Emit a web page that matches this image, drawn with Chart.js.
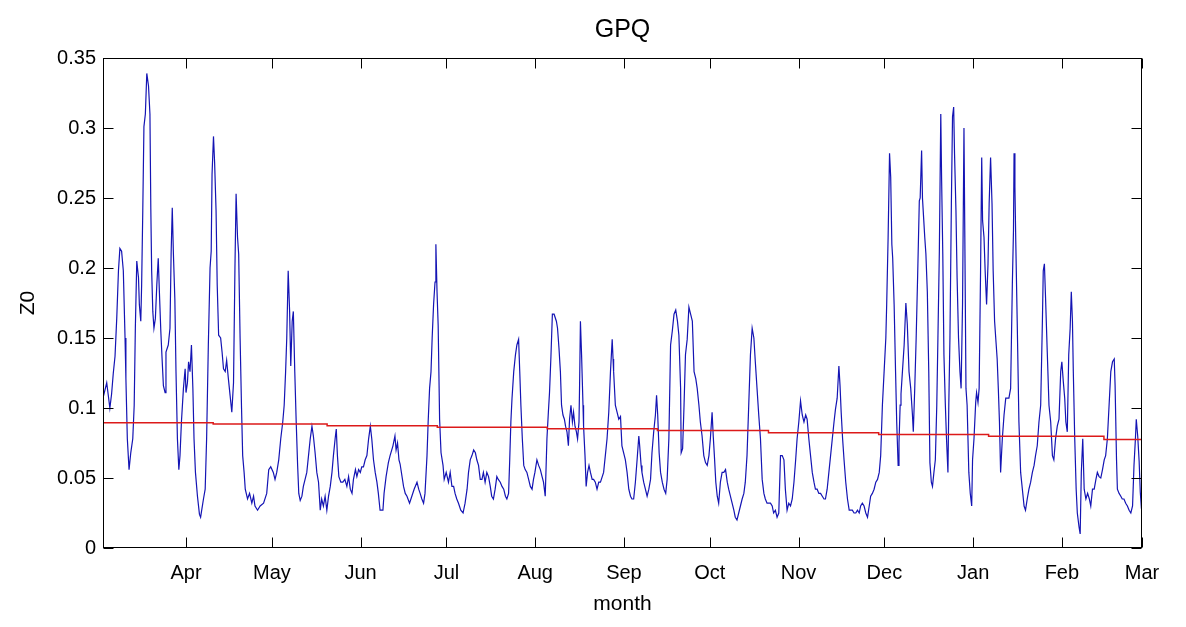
<!DOCTYPE html>
<html>
<head>
<meta charset="utf-8">
<script src="https://cdn.jsdelivr.net/npm/chart.js@4.4.1/dist/chart.umd.min.js"></script>
<style>
html,body{margin:0;padding:0;background:#fff;}
#wrap{width:1186px;height:627px;position:relative;}
</style>
</head>
<body>
<div id="wrap"><canvas id="c"></canvas></div>
<script>
// ---- data (day offset from start of record, Z0 value) ----
const dayOffsets = [
0.1,1.3,2.4,3.0,3.6,4.2,4.8,5.4,5.9,6.5,7.1,7.7,8.0,8.5,9.1,9.7,10.4,10.9,11.3,11.8,12.4,12.7,13.2,13.5,13.9,14.3,14.8,15.3,15.9,16.4,16.7,17.0,17.4,17.8,18.3,18.8,19.3,19.7,20.2,20.6,21.1,21.7,22.0,22.8,23.4,23.8,24.2,24.6,25.1,25.5,26.0,26.5,26.9,27.4,28.1,28.7,29.0,29.5,29.9,30.4,30.9,31.4,31.8,32.3,33.0,33.7,
34.1,35.1,35.7,36.2,36.8,37.4,37.8,38.1,38.6,39.0,39.5,39.9,40.4,41.1,41.6,42.1,42.7,43.2,43.8,44.4,45.0,45.6,46.1,46.5,47.0,47.4,47.9,48.4,48.8,49.3,49.7,50.5,51.2,52.0,52.6,53.1,54.0,54.9,56.1,57.2,57.9,58.6,59.5,60.1,60.7,61.4,62.1,62.8,63.3,63.8,64.2,64.7,65.2,65.6,66.1,66.5,67.0,67.5,68.0,68.4,
68.9,69.5,70.0,70.6,71.2,71.8,72.4,73.0,73.5,74.1,74.7,75.3,75.9,76.4,77.0,77.6,78.2,78.8,79.4,80.0,80.5,81.1,81.5,81.9,82.4,83.1,83.8,84.5,85.2,85.8,86.4,87.0,87.5,88.2,88.7,89.3,89.9,90.4,91.0,91.6,92.2,92.8,93.4,93.9,94.5,95.1,95.7,96.2,96.8,97.8,98.2,98.9,99.7,100.3,101.3,102.0,102.4,102.9,103.4,
103.8,105.0,105.6,106.2,107.1,107.9,108.7,109.7,110.3,110.8,111.4,112.0,112.5,113.2,113.6,114.1,114.6,115.0,115.5,116.0,116.3,116.7,117.1,117.6,118.1,118.8,119.2,119.9,120.7,121.3,121.9,122.5,123.0,123.6,124.2,125.0,125.8,126.5,127.2,127.7,128.3,128.9,129.5,130.1,130.6,131.2,131.8,132.4,132.9,133.5,134.1,134.7,135.3,135.8,136.4,137.0,137.6,138.1,
138.8,139.4,140.0,140.6,141.1,141.7,142.1,142.5,142.9,143.5,144.1,144.6,145.2,145.6,146.0,146.5,147.0,147.5,148.1,148.7,149.3,149.9,150.4,150.9,151.6,152.2,152.8,153.4,153.9,154.5,155.1,155.6,156.0,156.5,157.0,157.6,158.4,158.8,159.3,159.8,160.2,160.7,161.2,161.6,162.1,162.6,163.0,163.5,164.0,164.4,164.9,165.4,165.8,166.3,166.5,166.8,167.2,167.7,167.9,168.4,168.8,169.3,169.8,170.3,170.9,171.4,172.0,172.6,173.2,
173.8,174.9,175.5,176.1,176.7,177.3,177.9,178.2,178.4,179.0,179.6,180.2,180.8,181.3,181.9,182.5,183.1,183.7,184.3,184.8,185.4,186.0,186.6,187.2,187.5,188.0,188.3,188.9,189.5,190.1,190.7,191.3,191.8,192.4,193.0,193.4,193.8,194.3,194.8,195.4,196.0,196.6,197.1,197.7,198.3,198.9,199.5,200.1,200.7,201.2,201.8,202.0,202.5,203.0,203.5,204.1,204.7,205.3,205.9,206.5,207.1,207.6,208.2,
208.7,209.3,209.9,210.5,211.1,211.7,212.2,212.8,213.2,213.6,214.1,214.6,215.1,215.7,216.3,216.9,217.5,218.1,218.6,219.2,219.8,220.4,220.9,221.5,222.1,222.7,223.3,223.9,224.4,225.0,225.6,226.2,226.8,227.4,227.9,228.5,229.1,229.7,230.3,230.9,231.4,232.0,232.6,233.2,233.8,234.3,234.9,235.5,236.1,236.7,237.3,237.9,238.4,239.0,239.6,240.2,240.8,241.4,242.0,242.5,243.1,
243.7,244.3,244.9,245.5,246.0,246.6,247.2,247.8,248.4,248.9,249.5,250.1,250.7,251.3,251.9,252.4,253.0,253.6,254.2,254.8,255.4,255.9,256.5,257.1,257.5,257.9,258.4,258.9,259.5,260.1,260.7,261.2,261.8,262.4,263.0,263.6,264.2,264.7,265.3,265.9,266.5,267.1,267.7,268.2,268.8,269.4,270.0,270.6,271.2,271.7,272.3,272.9,273.5,273.8,274.3,274.8,275.2,275.6,275.9,276.4,276.9,277.3,277.8,278.1,278.5,
278.8,279.3,279.9,280.5,281.0,281.6,282.2,282.8,283.1,283.6,284.1,284.6,285.2,285.5,286.0,286.3,286.7,287.1,287.5,288.0,288.5,288.9,289.4,289.8,290.3,290.8,291.3,291.7,292.2,292.7,293.0,293.4,293.8,294.3,294.7,295.2,295.5,295.9,296.4,296.8,297.2,297.5,298.0,298.4,298.9,299.4,299.8,300.3,300.8,301.1,301.5,301.9,302.5,303.0,303.5,303.8,304.3,304.9,305.2,305.7,306.1,306.6,307.0,307.3,307.8,308.2,308.7,309.2,309.6,310.1,310.6,311.0,311.5,312.0,312.4,312.8,313.2,313.6,
314.2,314.8,315.4,316.5,317.1,317.7,318.1,318.3,318.6,318.9,319.4,320.0,320.6,321.2,321.8,322.3,322.9,323.5,324.1,324.7,325.3,325.8,326.4,327.0,327.6,328.2,328.5,328.9,329.3,329.9,330.5,331.1,331.7,332.2,332.8,333.4,334.0,334.6,335.0,335.5,336.0,336.4,336.9,337.4,337.9,338.3,338.7,339.0,339.5,340.0,340.4,341.0,341.4,341.8,342.3,342.8,343.4,344.0,344.6,345.1,345.7,346.3,346.9,347.4,348.0,348.6,
349.2,349.8,350.3,350.9,351.5,352.1,352.7,353.3,353.6,354.1,354.4,355.0,355.6,356.1,356.7,357.3,357.9,358.5,359.1,359.7,360.2,360.7,361.0,361.5,362.0,362.4,362.8,363.0
];
const z0Values = [
.108,.118,.100,.110,.125,.137,.164,.198,.214,.212,.198,.150,.121,.078,.056,.068,.078,.102,.157,.205,.193,.174,.162,.188,.241,.301,.310,.339,.330,.310,.243,.198,.169,.157,.164,.188,.207,.183,.155,.137,.116,.111,.140,.145,.157,.210,.243,.210,.178,.126,.078,.056,.066,.090,.114,.128,.111,.118,.133,.126,.145,.114,.078,.054,.037,.024,
.022,.035,.042,.078,.145,.200,.212,.267,.294,.275,.241,.188,.152,.150,.140,.128,.126,.134,.121,.109,.097,.118,.200,.253,.222,.210,.150,.100,.066,.054,.042,.035,.039,.032,.037,.030,.027,.030,.032,.039,.056,.058,.054,.049,.054,.063,.078,.090,.102,.126,.150,.198,.169,.130,.162,.169,.126,.090,.059,.039,
.034,.037,.044,.049,.054,.066,.078,.087,.080,.068,.054,.047,.027,.035,.030,.037,.027,.037,.044,.054,.066,.078,.085,.066,.051,.047,.047,.049,.044,.051,.042,.039,.049,.056,.051,.056,.054,.058,.058,.063,.066,.078,.087,.078,.063,.054,.047,.039,.027,.027,.039,.051,.061,.066,.073,.080,.070,.075,.063,
.060,.044,.039,.037,.032,.037,.042,.047,.042,.039,.035,.032,.039,.066,.090,.114,.126,.150,.174,.190,.217,.183,.159,.092,.068,.059,.049,.054,.047,.054,.044,.044,.039,.035,.032,.027,.025,.032,.042,.054,.063,.066,.070,.068,.063,.059,.049,.049,.054,.047,.054,.051,.044,.037,.035,.042,.051,.049,
.047,.044,.042,.037,.035,.039,.063,.090,.107,.126,.138,.145,.149,.126,.102,.078,.059,.056,.054,.049,.044,.042,.049,.054,.063,.059,.056,.051,.047,.037,.078,.097,.111,.137,.167,.167,.162,.157,.143,.126,.102,.095,.092,.087,.083,.073,.092,.102,.090,.097,.087,.083,.078,.090,.115,.162,.138,.102,.087,.066,.044,.054,.059,.054,.049,.049,.047,.042,.047,
.047,.054,.066,.078,.097,.126,.149,.135,.126,.102,.097,.092,.094,.073,.068,.063,.054,.042,.037,.035,.035,.047,.063,.080,.073,.059,.054,.047,.042,.037,.042,.049,.068,.083,.095,.109,.095,.068,.054,.047,.042,.039,.049,.078,.145,.155,.167,.170,.162,.152,.114,.068,.071,.102,.138,.149,.172,.167,.162,.126,.121,.114,.102,
.090,.080,.066,.061,.059,.066,.078,.097,.080,.066,.047,.037,.032,.047,.054,.054,.056,.047,.042,.037,.032,.027,.022,.020,.025,.030,.035,.039,.047,.066,.102,.138,.157,.150,.133,.114,.095,.078,.049,.039,.035,.032,.032,.032,.030,.025,.027,.022,.025,.066,.066,.063,.042,.027,.032,.030,.035,.047,.063,.078,.090,
.105,.095,.090,.095,.092,.078,.066,.054,.047,.042,.042,.039,.039,.037,.035,.035,.042,.054,.066,.078,.090,.099,.107,.130,.116,.097,.078,.063,.047,.035,.027,.027,.027,.025,.025,.027,.025,.030,.032,.030,.025,.022,.030,.037,.039,.042,.047,.049,.054,.066,.102,.126,.150,.174,.222,.282,.265,.217,.207,.174,.126,.090,.059,.075,.102,
.110,.126,.145,.175,.160,.126,.114,.095,.083,.114,.150,.193,.248,.250,.284,.250,.236,.222,.210,.183,.126,.061,.047,.044,.054,.063,.102,.150,.212,.310,.262,.210,.138,.102,.078,.054,.102,.150,.246,.308,.315,.282,.241,.193,.150,.126,.114,.174,.300,.222,.114,.102,.054,.039,.030,.063,.078,.104,.111,.104,.114,.198,.279,.234,.222,.198,.174,.203,.246,.279,.246,.198,.162,.147,.135,.114,.090,.054,
.078,.095,.107,.107,.114,.188,.227,.282,.258,.219,.162,.090,.054,.042,.030,.027,.035,.042,.047,.054,.059,.066,.073,.090,.102,.162,.198,.203,.179,.140,.102,.090,.066,.063,.078,.087,.092,.126,.133,.119,.107,.090,.083,.138,.157,.183,.162,.126,.078,.042,.025,.015,.010,.054,.078,.042,.035,.039,.035,.030,.042,.042,.049,.054,.051,.050,
.056,.063,.066,.078,.102,.126,.133,.135,.116,.063,.042,.039,.037,.035,.035,.032,.030,.027,.025,.030,.059,.078,.092,.080,.062,.040,.028,.045
];
// mean (trend) line, piecewise constant
const trendDays = [0, 38.5, 78.3, 116.8, 155.2, 193.7, 232.5, 271, 309.4, 349.7, 363];
const trendValues = [0.0895, 0.0885, 0.0873, 0.0862, 0.0851, 0.0840, 0.0823, 0.0811, 0.0798, 0.0775, 0.0775];
// axes
const monthTickDays = [29, 59, 90, 120, 151, 182, 212, 243, 273, 304, 335, 363];
const monthLabels = ['Apr','May','Jun','Jul','Aug','Sep','Oct','Nov','Dec','Jan','Feb','Mar'];
const yTickValues = [0, 0.05, 0.1, 0.15, 0.2, 0.25, 0.3, 0.35];
const yTickLabels = ['0','0.05','0.1','0.15','0.2','0.25','0.3','0.35'];
const titleText = 'GPQ';
const xTitle = 'month';
const yTitle = 'Z0';

const FONT = '"Liberation Sans", Arial, Helvetica, sans-serif';

const framePlugin = {
  id: 'frame',
  afterDatasetsDraw(chart) {
    const {ctx, chartArea: a, scales: {x, y}} = chart;
    ctx.save();
    ctx.strokeStyle = '#000';
    ctx.lineWidth = 1;
    const L = Math.round(a.left) + 0.5, R = Math.round(a.right) - 0.5;
    const T = Math.round(a.top) + 0.5, B = Math.round(a.bottom) - 0.5;
    ctx.strokeRect(L, T, R - L, B - T);
    ctx.beginPath();
    x.ticks.forEach(t => {
      const px = Math.round(x.getPixelForValue(t.value)) + 0.5;
      ctx.moveTo(px, B); ctx.lineTo(px, B - 10);
      ctx.moveTo(px, T); ctx.lineTo(px, T + 10);
    });
    y.ticks.forEach(t => {
      const py = Math.round(y.getPixelForValue(t.value)) + 0.5;
      ctx.moveTo(L, py); ctx.lineTo(L + 10, py);
      ctx.moveTo(R, py); ctx.lineTo(R - 10, py);
    });
    ctx.stroke();
    ctx.fillStyle = '#000';
    ctx.font = '25px ' + FONT;
    ctx.textAlign = 'center';
    ctx.textBaseline = 'middle';
    ctx.fillText(titleText, (a.left + a.right) / 2, 30);
    ctx.restore();
  }
};

new Chart(document.getElementById('c'), {
  type: 'line',
  data: {
    datasets: [
      {
        label: 'mean',
        data: trendDays.map((d, i) => ({x: d, y: trendValues[i]})),
        borderColor: '#dc1a1a',
        borderWidth: 1.5,
        pointRadius: 0,
        stepped: 'before',
        fill: false,
        order: 0
      },
      {
        label: 'Z0',
        data: dayOffsets.map((d, i) => ({x: d, y: z0Values[i]})),
        borderColor: '#1414b4',
        borderWidth: 1.2,
        pointRadius: 0,
        tension: 0,
        fill: false,
        order: 1
      }
    ]
  },
  options: {
    responsive: true,
    maintainAspectRatio: false,
    animation: false,
    devicePixelRatio: 1,
    layout: {padding: {top: 58, right: 44, left: 0, bottom: 0}},
    plugins: {legend: {display: false}, tooltip: {enabled: false}, title: {display: false}},
    scales: {
      x: {
        type: 'linear',
        min: 0,
        max: 363,
        grid: {display: false, drawTicks: false},
        border: {display: false},
        afterBuildTicks: s => { s.ticks = monthTickDays.map(v => ({value: v})); },
        afterFit: s => { s.height = 79; },
        ticks: {
          autoSkip: false, maxRotation: 0, minRotation: 0, padding: 13,
          color: '#000', font: {family: FONT, size: 20},
          callback: v => { const i = monthTickDays.indexOf(v); return i >= 0 ? monthLabels[i] : ''; }
        },
        title: {display: true, text: xTitle, color: '#000', font: {family: FONT, size: 21}, padding: {top: 0, bottom: 10}}
      },
      y: {
        type: 'linear',
        min: 0,
        max: 0.35,
        grid: {display: false, drawTicks: false},
        border: {display: false},
        afterBuildTicks: s => { s.ticks = yTickValues.map(v => ({value: v})); },
        afterFit: s => { s.width = 103; },
        ticks: {
          padding: 7, color: '#000', font: {family: FONT, size: 20},
          callback: v => { const i = yTickValues.findIndex(t => Math.abs(t - v) < 1e-9); return i >= 0 ? yTickLabels[i] : ''; }
        },
        title: {display: true, text: yTitle, color: '#000', font: {family: FONT, size: 21}, padding: {top: 16, bottom: 0}}
      }
    }
  },
  plugins: [framePlugin]
});
</script>
</body>
</html>
